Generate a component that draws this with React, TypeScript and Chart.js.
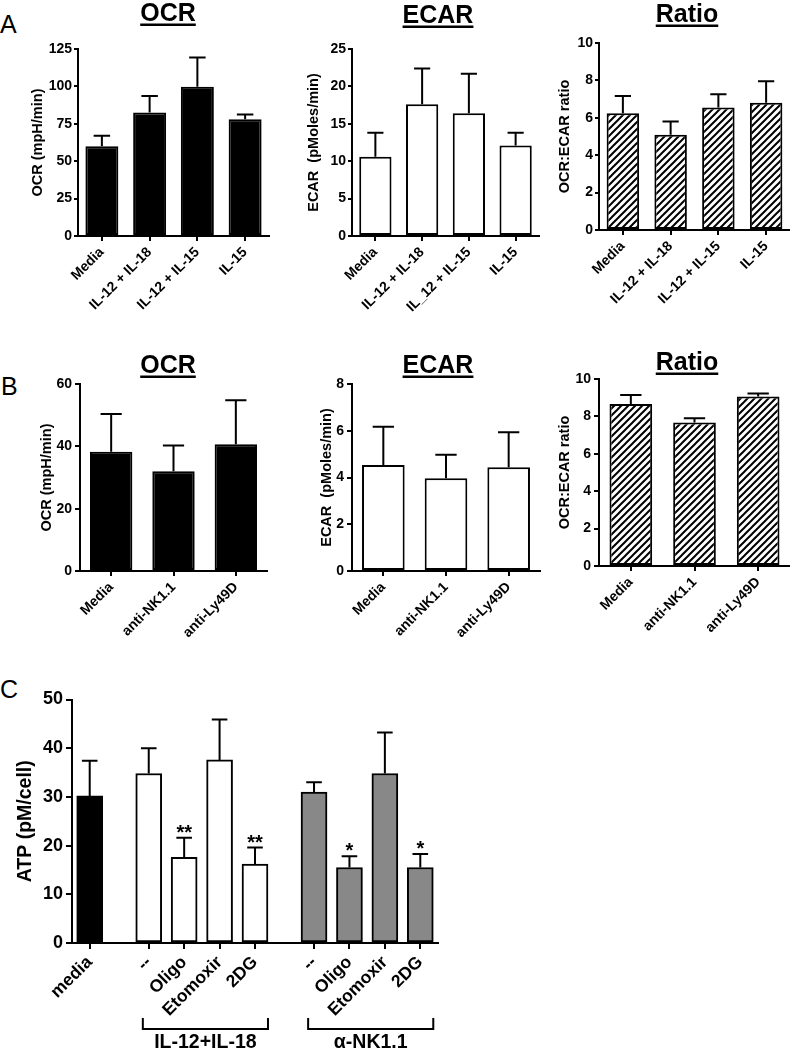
import React, { useEffect, useRef } from 'react';
import { Chart, registerables } from 'chart.js';

Chart.register(...registerables);

const FONT = '"Liberation Sans", Arial, Helvetica, sans-serif';

// ---------------- Data ----------------
// Panel A
const aLabels = ['Media', 'IL-12 + IL-18', 'IL-12 + IL-15', 'IL-15'];
const aEcarLabels = ['Media', 'IL-12 + IL-18', 'IL_12 + IL-15', 'IL-15'];
const aOcrValues = [60, 82.5, 99.8, 78];
const aOcrSem = [7, 11, 19.6, 3.3];
const aEcarValues = [10.6, 17.6, 16.4, 12.1];
const aEcarSem = [3.2, 4.8, 5.3, 1.7];
const aRatioValues = [6.25, 5.1, 6.55, 6.8];
const aRatioSem = [0.92, 0.7, 0.71, 1.16];

// Panel B
const bLabels = ['Media', 'anti-NK1.1', 'anti-Ly49D'];
const bOcrValues = [38.3, 32.0, 40.7];
const bOcrSem = [12.1, 8.3, 14.1];
const bEcarValues = [4.53, 3.97, 4.44];
const bEcarSem = [1.64, 1.0, 1.5];
const bRatioValues = [8.66, 7.68, 9.06];
const bRatioSem = [0.48, 0.22, 0.17];

// Panel C
const cGroupNames = ['', 'IL-12+IL-18', 'α-NK1.1'];
const cGroupLabels = [['media'], ['--', 'Oligo', 'Etomoxir', '2DG'], ['--', 'Oligo', 'Etomoxir', '2DG']];
const cAtpValues = [[30.2], [34.8, 17.6, 37.6, 16.2], [31.0, 15.5, 34.8, 15.5]];
const cAtpSem = [[7.2], [5.2, 4.0, 8.3, 3.4], [2.0, 2.3, 8.4, 2.8]];
const cStars = [[''], ['', '**', '', '**'], ['', '*', '', '*']];

// ---------------- Styles ----------------
const cGroupColors = ['#000000', '#ffffff', '#888888'];

type Box = { left: number; top: number; width: number; height: number };
type Plot = { left: number; right: number; top: number; bottom: number };
type Fill = 'black' | 'white' | 'hatch';

interface SmallSpec {
  key: string;
  labels: string[];
  values: number[];
  sem: number[];
  fill: Fill;
  title: string;
  titleX: number;
  titleBaseline: number;
  yTitle: string;
  yTitleX: number;
  yMax: number;
  yStep: number;
  barPct: number;
  canvas: Box;
  plot: Plot;
  tickLen: number;
  tickPad: number;
}

const smallSpecs: SmallSpec[] = [
  {
    key: 'aOcr', labels: aLabels, values: aOcrValues, sem: aOcrSem, fill: 'black',
    title: 'OCR', titleX: 168, titleBaseline: 21, yTitle: 'OCR (mpH/min)', yTitleX: 38,
    yMax: 125, yStep: 25, barPct: 0.69,
    canvas: { left: 0, top: 0, width: 272, height: 345 },
    plot: { left: 78, right: 269, top: 49, bottom: 236 }, tickLen: 4, tickPad: 2,
  },
  {
    key: 'aEcar', labels: aEcarLabels, values: aEcarValues, sem: aEcarSem, fill: 'white',
    title: 'ECAR', titleX: 438, titleBaseline: 23, yTitle: 'ECAR  (pMoles/min)', yTitleX: 314,
    yMax: 25, yStep: 5, barPct: 0.69,
    canvas: { left: 272, top: 0, width: 270, height: 345 },
    plot: { left: 352, right: 539, top: 49, bottom: 236 }, tickLen: 4, tickPad: 2,
  },
  {
    key: 'aRatio', labels: aLabels, values: aRatioValues, sem: aRatioSem, fill: 'hatch',
    title: 'Ratio', titleX: 687, titleBaseline: 22, yTitle: 'OCR:ECAR ratio', yTitleX: 565,
    yMax: 10, yStep: 2, barPct: 0.68,
    canvas: { left: 542, top: 0, width: 248, height: 345 },
    plot: { left: 599, right: 790, top: 43, bottom: 230 }, tickLen: 4, tickPad: 2,
  },
  {
    key: 'bOcr', labels: bLabels, values: bOcrValues, sem: bOcrSem, fill: 'black',
    title: 'OCR', titleX: 168, titleBaseline: 373, yTitle: 'OCR (mpH/min)', yTitleX: 47,
    yMax: 60, yStep: 20, barPct: 0.68,
    canvas: { left: 0, top: 345, width: 272, height: 320 },
    plot: { left: 80, right: 267, top: 384, bottom: 571 }, tickLen: 5, tickPad: 3,
  },
  {
    key: 'bEcar', labels: bLabels, values: bEcarValues, sem: bEcarSem, fill: 'white',
    title: 'ECAR', titleX: 438, titleBaseline: 373, yTitle: 'ECAR  (pMoles/min)', yTitleX: 327,
    yMax: 8, yStep: 2, barPct: 0.68,
    canvas: { left: 272, top: 345, width: 270, height: 320 },
    plot: { left: 352, right: 540, top: 384, bottom: 571 }, tickLen: 5, tickPad: 3,
  },
  {
    key: 'bRatio', labels: bLabels, values: bRatioValues, sem: bRatioSem, fill: 'hatch',
    title: 'Ratio', titleX: 687, titleBaseline: 370, yTitle: 'OCR:ECAR ratio', yTitleX: 565,
    yMax: 10, yStep: 2, barPct: 0.67,
    canvas: { left: 542, top: 345, width: 248, height: 320 },
    plot: { left: 599, right: 790, top: 379, bottom: 566 }, tickLen: 5, tickPad: 3,
  },
];

const cLayout = {
  canvas: { left: 0, top: 665, width: 470, height: 385 },
  plot: { left: 72, right: 438, top: 699.5, bottom: 943 },
  yTitleX: 26,
};

const panelLetters = [
  { text: 'A', left: 0, baseline: 33 },
  { text: 'B', left: 1, baseline: 395 },
  { text: 'C', left: 0, baseline: 698 },
];

// ---------------- Helpers ----------------
function makeHatch(): CanvasPattern | string {
  const s = 7;
  const c = document.createElement('canvas');
  c.width = s;
  c.height = s;
  const g = c.getContext('2d');
  if (!g) return '#fff';
  g.fillStyle = '#ffffff';
  g.fillRect(0, 0, s, s);
  g.strokeStyle = '#000000';
  g.lineWidth = 2;
  g.beginPath();
  g.moveTo(-1, s + 1);
  g.lineTo(s + 1, -1);
  g.moveTo(-1, 1);
  g.lineTo(1, -1);
  g.moveTo(s - 1, s + 1);
  g.lineTo(s + 1, s - 1);
  g.stroke();
  return g.createPattern(c, 'repeat') || '#fff';
}

function makeErrorPlugin(sem: number[], capRatio: number, stars?: string[], starSize = 20) {
  return {
    id: 'errorBars',
    afterDatasetsDraw(chart: any) {
      const ctx = chart.ctx as CanvasRenderingContext2D;
      const yScale = chart.scales.y;
      const meta = chart.getDatasetMeta(0);
      meta.data.forEach((bar: any, i: number) => {
        const parsed = meta.controller.getParsed(i);
        const v = parsed.y;
        const e = sem[i];
        const x = bar.x;
        const yTop = bar.y;
        const yErr = yScale.getPixelForValue(v + e);
        const half = (bar.width * capRatio) / 2;
        ctx.save();
        ctx.strokeStyle = '#000';
        ctx.lineWidth = 2;
        ctx.lineCap = 'butt';
        ctx.beginPath();
        ctx.moveTo(x, yTop);
        ctx.lineTo(x, yErr);
        ctx.moveTo(x - half, yErr);
        ctx.lineTo(x + half, yErr);
        ctx.stroke();
        if (stars && stars[i]) {
          ctx.fillStyle = '#000';
          ctx.font = `bold ${starSize}px ${FONT}`;
          ctx.textAlign = 'center';
          ctx.textBaseline = 'alphabetic';
          ctx.fillText(stars[i], x, yErr + 1);
        }
        ctx.restore();
      });
    },
  };
}

function makeTitlePlugin(text: string, x: number, y: number, size: number) {
  return {
    id: 'underTitle',
    afterDraw(chart: any) {
      const ctx = chart.ctx as CanvasRenderingContext2D;
      ctx.save();
      ctx.font = `bold ${size}px ${FONT}`;
      ctx.fillStyle = '#000';
      ctx.textAlign = 'center';
      ctx.textBaseline = 'alphabetic';
      ctx.fillText(text, x, y);
      const w = ctx.measureText(text).width;
      ctx.fillRect(x - w / 2, y + 2.5, w, 2.5);
      ctx.restore();
    },
  };
}

function axisGrid(tickLen: number) {
  return {
    display: true,
    drawOnChartArea: false,
    drawTicks: true,
    tickLength: tickLen,
    tickWidth: 2,
    tickColor: '#000',
    color: '#000',
    lineWidth: 2,
    offset: false,
  };
}

const axisBorder = { display: true, color: '#000', width: 2 };

function smallConfig(s: SmallSpec, hatch: CanvasPattern | string): any {
  const yWidth = s.plot.left - s.canvas.left;
  const xHeight = s.canvas.top + s.canvas.height - s.plot.bottom;
  const padRight = s.canvas.left + s.canvas.width - s.plot.right;
  const padTop = s.plot.top - s.canvas.top;
  const yTitleSize = 14.5;
  const bg = s.fill === 'black' ? '#000000' : s.fill === 'white' ? '#ffffff' : hatch;
  return {
    type: 'bar',
    data: {
      labels: s.labels,
      datasets: [
        {
          data: s.values,
          backgroundColor: bg,
          borderColor: '#000',
          borderWidth: 2,
          borderSkipped: false,
          categoryPercentage: 1,
          barPercentage: s.barPct,
        },
      ],
    },
    options: {
      animation: false,
      responsive: false,
      devicePixelRatio: 1,
      events: [],
      layout: { padding: { left: 0, right: padRight, top: padTop, bottom: 0 } },
      plugins: { legend: { display: false }, tooltip: { enabled: false }, title: { display: false } },
      scales: {
        x: {
          offset: true,
          grid: axisGrid(5),
          border: axisBorder,
          ticks: {
            color: '#000',
            font: { family: FONT, size: 14, weight: 'bold' },
            minRotation: 45,
            maxRotation: 45,
            autoSkip: false,
            padding: 3,
          },
          afterFit: (scale: any) => {
            scale.height = xHeight;
          },
        },
        y: {
          min: 0,
          max: s.yMax,
          grid: axisGrid(s.tickLen),
          border: axisBorder,
          ticks: {
            stepSize: s.yStep,
            color: '#000',
            font: { family: FONT, size: 14, weight: 'bold' },
            padding: s.tickPad,
          },
          title: {
            display: true,
            text: s.yTitle,
            color: '#000',
            font: { family: FONT, size: yTitleSize, weight: 'bold' },
            padding: { top: s.yTitleX - s.canvas.left - (yTitleSize * 1.2) / 2, bottom: 0 },
          },
          afterFit: (scale: any) => {
            scale.width = yWidth;
          },
        },
      },
    },
    plugins: [
      makeErrorPlugin(s.sem, 0.5),
      makeTitlePlugin(s.title, s.titleX - s.canvas.left, s.titleBaseline - s.canvas.top, 25),
    ],
  };
}

function cConfig(): any {
  const L = cLayout;
  const positions: number[] = [];
  const labels: string[] = [];
  const points: { x: number; y: number }[] = [];
  const sems: number[] = [];
  const stars: string[] = [];
  const colors: string[] = [];
  const groups: { name: string; first: number; last: number }[] = [];
  let pos = 1;
  cGroupLabels.forEach((g, gi) => {
    const first = pos;
    g.forEach((lab, i) => {
      positions.push(pos);
      labels.push(lab);
      points.push({ x: pos, y: cAtpValues[gi][i] });
      sems.push(cAtpSem[gi][i]);
      stars.push(cStars[gi][i]);
      colors.push(cGroupColors[gi]);
      pos += 3;
    });
    groups.push({ name: cGroupNames[gi], first, last: pos - 3 });
    pos += 2;
  });
  const xMin = positions[0] - 1.5;
  const xMax = positions[positions.length - 1] + 1.5;

  const yWidth = L.plot.left - L.canvas.left;
  const xHeight = L.canvas.top + L.canvas.height - L.plot.bottom;
  const padRight = L.canvas.left + L.canvas.width - L.plot.right;
  const padTop = L.plot.top - L.canvas.top;
  const yTitleSize = 19.5;

  const bracketPlugin = {
    id: 'groupBrackets',
    afterDraw(chart: any) {
      const ctx = chart.ctx as CanvasRenderingContext2D;
      const xs = chart.scales.x;
      const bottom = chart.chartArea.bottom;
      const slot = xs.getPixelForValue(1) - xs.getPixelForValue(0);
      groups.forEach((g) => {
        if (!g.name) return;
        const l = xs.getPixelForValue(g.first) - 0.5 * slot;
        const r = xs.getPixelForValue(g.last) + 1.1 * slot;
        const yTop = bottom + 75;
        const yBar = bottom + 86;
        ctx.save();
        ctx.strokeStyle = '#000';
        ctx.lineWidth = 2;
        ctx.beginPath();
        ctx.moveTo(l, yTop);
        ctx.lineTo(l, yBar);
        ctx.lineTo(r, yBar);
        ctx.lineTo(r, yTop);
        ctx.stroke();
        ctx.fillStyle = '#000';
        ctx.font = `bold 19.5px ${FONT}`;
        ctx.textAlign = 'center';
        ctx.textBaseline = 'alphabetic';
        ctx.fillText(g.name, (l + r) / 2, bottom + 105);
        ctx.restore();
      });
    },
  };

  return {
    type: 'bar',
    data: {
      datasets: [
        {
          data: points,
          backgroundColor: colors,
          borderColor: '#000',
          borderWidth: 2,
          borderSkipped: false,
          barThickness: 26,
        },
      ],
    },
    options: {
      animation: false,
      responsive: false,
      devicePixelRatio: 1,
      events: [],
      layout: { padding: { left: 0, right: padRight, top: padTop, bottom: 0 } },
      plugins: { legend: { display: false }, tooltip: { enabled: false }, title: { display: false } },
      scales: {
        x: {
          type: 'linear',
          min: xMin,
          max: xMax,
          offset: false,
          grid: axisGrid(6),
          border: axisBorder,
          afterBuildTicks: (scale: any) => {
            scale.ticks = positions.map((v) => ({ value: v }));
          },
          ticks: {
            color: '#000',
            font: { family: FONT, size: 17.5, weight: 'bold' },
            minRotation: 45,
            maxRotation: 45,
            autoSkip: false,
            padding: 3,
            callback: (_v: any, i: number) => labels[i],
          },
          afterFit: (scale: any) => {
            scale.height = xHeight;
          },
        },
        y: {
          min: 0,
          max: 50,
          grid: axisGrid(6),
          border: axisBorder,
          ticks: {
            stepSize: 10,
            color: '#000',
            font: { family: FONT, size: 18, weight: 'bold' },
            padding: 3,
          },
          title: {
            display: true,
            text: 'ATP (pM/cell)',
            color: '#000',
            font: { family: FONT, size: yTitleSize, weight: 'bold' },
            padding: { top: L.yTitleX - L.canvas.left - (yTitleSize * 1.2) / 2, bottom: 0 },
          },
          afterFit: (scale: any) => {
            scale.width = yWidth;
          },
        },
      },
    },
    plugins: [makeErrorPlugin(sems, 0.6, stars, 20), bracketPlugin],
  };
}

// ---------------- Components ----------------
function ChartCanvas({ box, build }: { box: Box; build: () => any }) {
  const ref = useRef<HTMLCanvasElement>(null);
  useEffect(() => {
    if (!ref.current) return;
    const chart = new Chart(ref.current, build());
    return () => chart.destroy();
  }, []);
  return (
    <canvas
      ref={ref}
      width={box.width}
      height={box.height}
      style={{ position: 'absolute', left: box.left, top: box.top, width: box.width, height: box.height }}
    />
  );
}

export default function App() {
  const hatchRef = useRef<CanvasPattern | string | null>(null);
  if (hatchRef.current === null && typeof document !== 'undefined') {
    hatchRef.current = makeHatch();
  }
  return (
    <div
      style={{
        position: 'fixed',
        left: 0,
        top: 0,
        width: 790,
        height: 1050,
        background: '#fff',
        overflow: 'hidden',
        fontFamily: FONT,
      }}
    >
      {panelLetters.map((p) => (
        <div
          key={p.text}
          style={{
            position: 'absolute',
            left: p.left,
            top: p.baseline - 21,
            fontSize: 25,
            lineHeight: '25px',
            color: '#000',
          }}
        >
          {p.text}
        </div>
      ))}
      {smallSpecs.map((s) => (
        <ChartCanvas key={s.key} box={s.canvas} build={() => smallConfig(s, hatchRef.current || '#fff')} />
      ))}
      <ChartCanvas key="c" box={cLayout.canvas} build={cConfig} />
    </div>
  );
}
